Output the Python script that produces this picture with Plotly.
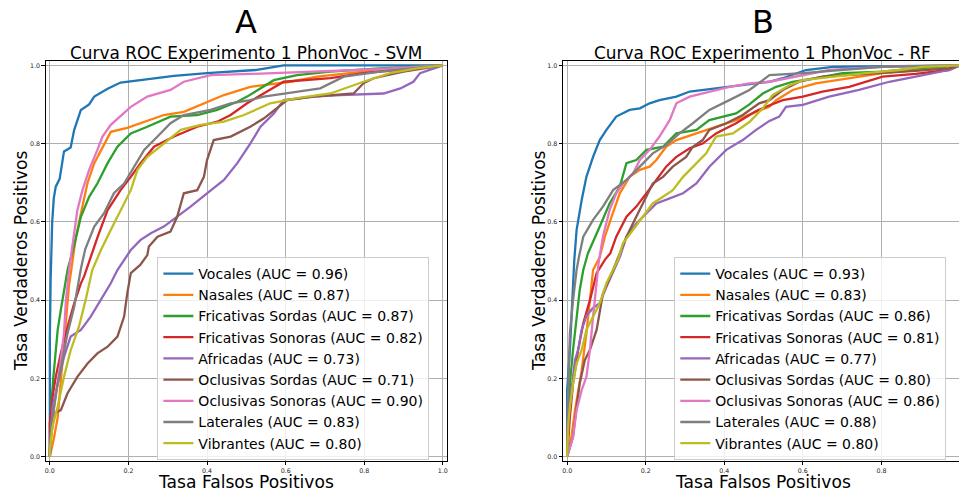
import plotly.graph_objects as go

# ---------------- data ----------------
CATEGORIES = ["Vocales", "Nasales", "Fricativas Sordas", "Fricativas Sonoras", "Africadas",
              "Oclusivas Sordas", "Oclusivas Sonoras", "Laterales", "Vibrantes"]
AUC_SVM = [0.96, 0.87, 0.87, 0.82, 0.73, 0.71, 0.90, 0.83, 0.80]
AUC_RF = [0.93, 0.83, 0.86, 0.81, 0.77, 0.80, 0.86, 0.88, 0.80]
COLORS = ["#1f77b4", "#ff7f0e", "#2ca02c", "#d62728", "#9467bd",
          "#8c564b", "#e377c2", "#7f7f7f", "#bcbd22"]
X_TICKS = [0.0, 0.2, 0.4, 0.6, 0.8, 1.0]
Y_TICKS = [0.0, 0.2, 0.4, 0.6, 0.8, 1.0]

# (FPR, TPR) points
SVM_VOCALES = [(0, 0), (0.0, 0.3), (0.002, 0.45), (0.004, 0.55), (0.006, 0.6), (0.01, 0.66), (0.015, 0.69),
               (0.025, 0.71), (0.032, 0.76), (0.036, 0.78), (0.053, 0.79), (0.062, 0.835), (0.079, 0.886),
               (0.1, 0.9), (0.113, 0.92), (0.147, 0.94), (0.18, 0.956), (0.231, 0.962), (0.316, 0.973),
               (0.4, 0.98), (0.46, 0.984), (0.523, 0.988), (0.595, 1.0), (1, 1)]
SVM_NASALES = [(0, 0), (0.011, 0.05), (0.02, 0.10), (0.028, 0.19), (0.036, 0.29), (0.045, 0.38), (0.049, 0.44),
               (0.055, 0.48), (0.062, 0.53), (0.066, 0.56), (0.083, 0.64), (0.096, 0.70), (0.113, 0.75),
               (0.134, 0.79), (0.155, 0.83), (0.197, 0.84), (0.24, 0.856), (0.29, 0.873), (0.341, 0.881),
               (0.392, 0.903), (0.443, 0.924), (0.51, 0.945), (0.612, 0.958), (0.68, 0.971), (0.798, 0.984),
               (0.9, 0.992), (1, 1)]
SVM_FRIC_SORDAS = [(0, 0), (0.004, 0.136), (0.009, 0.204), (0.015, 0.272), (0.02, 0.324), (0.028, 0.375),
                   (0.036, 0.426), (0.045, 0.477), (0.062, 0.54), (0.079, 0.613), (0.1, 0.664), (0.121, 0.698),
                   (0.147, 0.75), (0.172, 0.792), (0.206, 0.826), (0.248, 0.843), (0.307, 0.869), (0.375, 0.873),
                   (0.426, 0.886), (0.477, 0.907), (0.502, 0.92), (0.544, 0.945), (0.57, 0.962), (0.629, 0.975),
                   (0.714, 0.984), (0.84, 0.992), (1, 1)]
SVM_FRIC_SONORAS = [(0, 0), (0.0, 0.085), (0.007, 0.153), (0.015, 0.204), (0.028, 0.264), (0.045, 0.332),
                    (0.062, 0.392), (0.079, 0.443), (0.087, 0.46), (0.104, 0.51), (0.121, 0.56), (0.147, 0.63),
                    (0.18, 0.681), (0.206, 0.715), (0.231, 0.75), (0.265, 0.792), (0.316, 0.818), (0.375, 0.843),
                    (0.426, 0.856), (0.46, 0.873), (0.502, 0.903), (0.544, 0.928), (0.595, 0.958), (0.714, 0.967),
                    (0.798, 0.98), (0.883, 0.988), (1, 1)]
SVM_AFRICADAS = [(0, 0), (0.0, 0.017), (0.007, 0.128), (0.02, 0.188), (0.036, 0.255), (0.053, 0.307),
                 (0.079, 0.324), (0.104, 0.358), (0.13, 0.4), (0.155, 0.443), (0.172, 0.477), (0.206, 0.528),
                 (0.231, 0.554), (0.257, 0.571), (0.29, 0.588), (0.324, 0.613), (0.358, 0.639), (0.4, 0.673),
                 (0.443, 0.707), (0.477, 0.75), (0.51, 0.8), (0.536, 0.843), (0.57, 0.877), (0.595, 0.911),
                 (0.671, 0.92), (0.739, 0.924), (0.849, 0.928), (0.892, 0.941), (0.925, 0.958), (0.942, 0.98),
                 (1, 1)]
SVM_OCL_SORDAS = [(0, 0), (0.003, 0.051), (0.011, 0.111), (0.028, 0.119), (0.045, 0.162), (0.07, 0.204),
                  (0.096, 0.238), (0.121, 0.264), (0.147, 0.281), (0.172, 0.307), (0.189, 0.358), (0.197, 0.417),
                  (0.206, 0.469), (0.23, 0.49), (0.248, 0.515), (0.252, 0.537), (0.274, 0.562), (0.307, 0.575),
                  (0.324, 0.613), (0.341, 0.673), (0.375, 0.681), (0.392, 0.715), (0.4, 0.758), (0.417, 0.809),
                  (0.46, 0.818), (0.51, 0.843), (0.544, 0.864), (0.578, 0.89), (0.604, 0.911), (0.671, 0.92),
                  (0.773, 0.928), (0.798, 0.954), (0.824, 0.967), (0.9, 0.984), (1, 1)]
SVM_OCL_SONORAS = [(0, 0), (0.003, 0.05), (0.011, 0.128), (0.02, 0.188), (0.028, 0.247), (0.036, 0.316),
                   (0.041, 0.4), (0.049, 0.477), (0.058, 0.545), (0.07, 0.63), (0.083, 0.681), (0.1, 0.733),
                   (0.121, 0.784), (0.134, 0.818), (0.155, 0.848), (0.189, 0.877), (0.206, 0.894), (0.248, 0.92),
                   (0.307, 0.937), (0.341, 0.958), (0.409, 0.975), (0.511, 0.978), (0.832, 0.99), (1, 1)]
SVM_LATERALES = [(0, 0), (0.003, 0.077), (0.011, 0.128), (0.02, 0.188), (0.032, 0.247), (0.045, 0.315),
                 (0.062, 0.383), (0.074, 0.45), (0.079, 0.48), (0.09, 0.53), (0.113, 0.588), (0.138, 0.622),
                 (0.163, 0.673), (0.189, 0.698), (0.214, 0.741), (0.24, 0.784), (0.274, 0.818), (0.307, 0.852),
                 (0.341, 0.873), (0.409, 0.886), (0.46, 0.903), (0.51, 0.911), (0.544, 0.92), (0.629, 0.933),
                 (0.688, 0.941), (0.748, 0.971), (0.84, 0.984), (1, 1)]
SVM_VIBRANTES = [(0, 0), (0.0, 0.017), (0.007, 0.077), (0.02, 0.128), (0.036, 0.204), (0.053, 0.272),
                 (0.074, 0.332), (0.091, 0.4), (0.108, 0.477), (0.13, 0.528), (0.155, 0.579), (0.18, 0.63),
                 (0.206, 0.681), (0.223, 0.733), (0.248, 0.766), (0.29, 0.8), (0.333, 0.835), (0.384, 0.848),
                 (0.443, 0.856), (0.494, 0.873), (0.561, 0.903), (0.629, 0.916), (0.714, 0.928), (0.798, 0.958),
                 (0.866, 0.98), (0.934, 0.992), (1, 1)]

# (FPR, TPR) points
RF_VOCALES = [(0, 0), (0.0, 0.17), (0.007, 0.273), (0.011, 0.358), (0.015, 0.443), (0.018, 0.5), (0.024, 0.579),
              (0.037, 0.656), (0.049, 0.715), (0.066, 0.766), (0.083, 0.809), (0.1, 0.835), (0.125, 0.869),
              (0.159, 0.886), (0.185, 0.89), (0.21, 0.903), (0.235, 0.911), (0.278, 0.92), (0.312, 0.933),
              (0.362, 0.939), (0.413, 0.945), (0.464, 0.951), (0.515, 0.958), (0.549, 0.967), (0.608, 0.988),
              (0.676, 0.996), (1, 1)]
RF_NASALES = [(0, 0), (0.011, 0.051), (0.02, 0.119), (0.028, 0.17), (0.037, 0.221), (0.049, 0.315), (0.058, 0.4),
              (0.066, 0.477), (0.083, 0.51), (0.096, 0.562), (0.113, 0.613), (0.134, 0.673), (0.159, 0.715),
              (0.185, 0.733), (0.21, 0.741), (0.227, 0.758), (0.252, 0.792), (0.278, 0.809), (0.329, 0.826),
              (0.379, 0.843), (0.43, 0.86), (0.481, 0.881), (0.515, 0.894), (0.532, 0.911), (0.574, 0.937),
              (0.633, 0.954), (0.718, 0.967), (0.803, 0.98), (0.887, 0.988), (1, 1)]
RF_FRIC_SORDAS = [(0, 0), (0.007, 0.187), (0.015, 0.273), (0.024, 0.358), (0.032, 0.426), (0.041, 0.477),
                  (0.053, 0.52), (0.083, 0.588), (0.108, 0.647), (0.134, 0.69), (0.151, 0.75), (0.176, 0.758),
                  (0.202, 0.784), (0.244, 0.792), (0.278, 0.826), (0.329, 0.835), (0.362, 0.86), (0.43, 0.877),
                  (0.464, 0.9), (0.498, 0.928), (0.532, 0.945), (0.574, 0.958), (0.633, 0.967), (0.701, 0.98),
                  (0.803, 0.984), (0.887, 0.992), (1, 1)]
RF_FRIC_SONORAS = [(0, 0), (0.007, 0.102), (0.015, 0.187), (0.028, 0.273), (0.041, 0.341), (0.058, 0.4),
                   (0.075, 0.469), (0.096, 0.503), (0.11, 0.52), (0.125, 0.562), (0.151, 0.613), (0.176, 0.639),
                   (0.202, 0.673), (0.227, 0.707), (0.252, 0.741), (0.278, 0.766), (0.312, 0.788), (0.345, 0.8),
                   (0.379, 0.826), (0.43, 0.852), (0.481, 0.883), (0.506, 0.894), (0.549, 0.911), (0.6, 0.92),
                   (0.65, 0.933), (0.718, 0.945), (0.803, 0.971), (0.887, 0.978), (0.972, 0.988), (1, 1)]
RF_AFRICADAS = [(0, 0), (0.003, 0.102), (0.011, 0.17), (0.02, 0.247), (0.028, 0.273), (0.037, 0.324),
                (0.049, 0.36), (0.066, 0.38), (0.083, 0.392), (0.1, 0.434), (0.134, 0.51), (0.151, 0.562),
                (0.176, 0.596), (0.202, 0.622), (0.227, 0.647), (0.261, 0.66), (0.295, 0.673), (0.329, 0.698),
                (0.362, 0.741), (0.405, 0.784), (0.447, 0.809), (0.481, 0.835), (0.515, 0.858), (0.54, 0.869),
                (0.557, 0.894), (0.6, 0.899), (0.667, 0.92), (0.743, 0.937), (0.82, 0.958), (0.887, 0.971),
                (0.972, 0.988), (1, 1)]
RF_OCL_SORDAS = [(0, 0), (0.015, 0.051), (0.024, 0.128), (0.032, 0.187), (0.045, 0.247), (0.058, 0.273),
                 (0.075, 0.324), (0.091, 0.417), (0.117, 0.477), (0.13, 0.51), (0.151, 0.562), (0.176, 0.613),
                 (0.202, 0.664), (0.218, 0.698), (0.244, 0.715), (0.269, 0.741), (0.303, 0.766), (0.32, 0.792),
                 (0.345, 0.809), (0.362, 0.835), (0.405, 0.852), (0.447, 0.873), (0.489, 0.903), (0.515, 0.911),
                 (0.549, 0.937), (0.591, 0.958), (0.65, 0.971), (0.718, 0.975), (0.803, 0.981), (0.887, 0.986),
                 (0.972, 0.992), (1, 1)]
RF_OCL_SONORAS = [(0, 0), (0.015, 0.051), (0.024, 0.119), (0.037, 0.17), (0.049, 0.204), (0.058, 0.273),
                  (0.066, 0.358), (0.075, 0.443), (0.08, 0.494), (0.091, 0.562), (0.108, 0.63), (0.125, 0.673),
                  (0.142, 0.698), (0.168, 0.724), (0.185, 0.758), (0.21, 0.784), (0.235, 0.818), (0.261, 0.86),
                  (0.278, 0.903), (0.312, 0.92), (0.362, 0.933), (0.413, 0.945), (0.464, 0.954), (0.515, 0.958),
                  (0.667, 0.988), (0.803, 0.996), (1, 1)]
RF_LATERALES = [(0, 0), (0.0, 0.05), (0.003, 0.187), (0.007, 0.315), (0.015, 0.4), (0.024, 0.477), (0.03, 0.51),
                (0.041, 0.562), (0.066, 0.605), (0.091, 0.639), (0.117, 0.681), (0.151, 0.707), (0.185, 0.741),
                (0.218, 0.775), (0.252, 0.796), (0.286, 0.826), (0.32, 0.852), (0.362, 0.886), (0.413, 0.911),
                (0.464, 0.937), (0.498, 0.962), (0.515, 0.975), (0.6, 0.98), (0.8, 0.996), (1, 1)]
RF_VIBRANTES = [(0, 0), (0.003, 0.085), (0.007, 0.128), (0.015, 0.187), (0.024, 0.238), (0.037, 0.273),
                (0.049, 0.324), (0.066, 0.358), (0.083, 0.392), (0.1, 0.443), (0.117, 0.477), (0.13, 0.505),
                (0.142, 0.545), (0.168, 0.579), (0.193, 0.613), (0.218, 0.647), (0.244, 0.664), (0.269, 0.681),
                (0.295, 0.715), (0.32, 0.741), (0.354, 0.775), (0.379, 0.818), (0.422, 0.826), (0.464, 0.855),
                (0.498, 0.89), (0.523, 0.924), (0.566, 0.949), (0.6, 0.962), (0.676, 0.971), (0.76, 0.98),
                (0.845, 0.988), (0.904, 0.996), (1, 1)]

SVM_CURVES = [SVM_VOCALES, SVM_NASALES, SVM_FRIC_SORDAS, SVM_FRIC_SONORAS, SVM_AFRICADAS,
              SVM_OCL_SORDAS, SVM_OCL_SONORAS, SVM_LATERALES, SVM_VIBRANTES]
RF_CURVES = [RF_VOCALES, RF_NASALES, RF_FRIC_SORDAS, RF_FRIC_SONORAS, RF_AFRICADAS,
             RF_OCL_SORDAS, RF_OCL_SONORAS, RF_LATERALES, RF_VIBRANTES]

# ---------------- figure ----------------
W, H = 960, 494
FONT = "DejaVu Sans"

fig = go.Figure()
for curves, aucs, xa, ya, leg in [(SVM_CURVES, AUC_SVM, "x", "y", "legend"),
                                  (RF_CURVES, AUC_RF, "x2", "y2", "legend2")]:
    for name, auc, pts, col in zip(CATEGORIES, aucs, curves, COLORS):
        fig.add_trace(go.Scatter(
            x=[p[0] for p in pts], y=[p[1] for p in pts], mode="lines",
            line=dict(color=col, width=2.3),
            name=f"{name} (AUC = {auc:.2f})",
            xaxis=xa, yaxis=ya, legend=leg, showlegend=True))

def px_x(p):
    return p / W

def px_y(p):
    return 1 - p / H

axis_common = dict(
    showgrid=True, gridcolor="#b0b0b0", gridwidth=1, zeroline=False,
    showline=True, linecolor="black", linewidth=1.3,
    ticks="outside", ticklen=3.5, tickwidth=0.8, tickcolor="black",
    tickfont=dict(family=FONT, size=6.3, color="#222"),
)

y_dom = [px_y(460.6), px_y(61.4)]
LEG_FONT = dict(family=FONT, size=14, color="black")
fig.update_layout(
    width=W, height=H, margin=dict(l=0, r=0, t=0, b=0),
    paper_bgcolor="white", plot_bgcolor="white",
    font=dict(family=FONT, color="black"),
    xaxis=dict(domain=[px_x(45.0), px_x(446.7)], range=[-0.01, 1.01], anchor="y",
               tickvals=X_TICKS, ticktext=[f"{v:.1f}" for v in X_TICKS], mirror=True, **axis_common),
    yaxis=dict(domain=y_dom, range=[-0.01, 1.01], anchor="x",
               tickvals=Y_TICKS, ticktext=[f"{v:.1f}" for v in Y_TICKS], mirror=True, **axis_common),
    xaxis2=dict(domain=[px_x(563.4), 1.0], range=[-0.01, 0.9975], anchor="y2",
                tickvals=X_TICKS, ticktext=[f"{v:.1f}" for v in X_TICKS], mirror=True, **axis_common),
    yaxis2=dict(domain=y_dom, range=[-0.01, 1.01], anchor="x2",
                tickvals=Y_TICKS, ticktext=[f"{v:.1f}" for v in Y_TICKS], mirror=False, **axis_common),
    legend=dict(x=px_x(156.7), y=px_y(257), xanchor="left", yanchor="top",
                bgcolor="rgba(255,255,255,0.8)", bordercolor="#cccccc", borderwidth=1,
                font=LEG_FONT),
    legend2=dict(x=px_x(674.7), y=px_y(257), xanchor="left", yanchor="top",
                 bgcolor="rgba(255,255,255,0.8)", bordercolor="#cccccc", borderwidth=1,
                 font=LEG_FONT),
)

ann = []
def text(t, x, y, size, angle=0):
    ann.append(dict(text=t, x=px_x(x), y=px_y(y), xref="paper", yref="paper",
                    xanchor="center", yanchor="middle", showarrow=False, textangle=angle,
                    font=dict(family=FONT, size=size, color="black")))

text("A", 246, 22, 32)
text("B", 764, 22, 32)
text("Curva ROC Experimento 1 PhonVoc - SVM", 245.5, 53, 16.9)
text("Curva ROC Experimento 1 PhonVoc - RF", 763.5, 53, 16.9)
text("Tasa Falsos Positivos", 245.5, 481.5, 17.1)
text("Tasa Falsos Positivos", 764, 481.5, 17.1)
text("Tasa Verdaderos Positivos", 20, 261, 17.1, -90)
text("Tasa Verdaderos Positivos", 539, 261, 17.1, -90)
fig.update_layout(annotations=ann)

fig.write_html("out.html")
